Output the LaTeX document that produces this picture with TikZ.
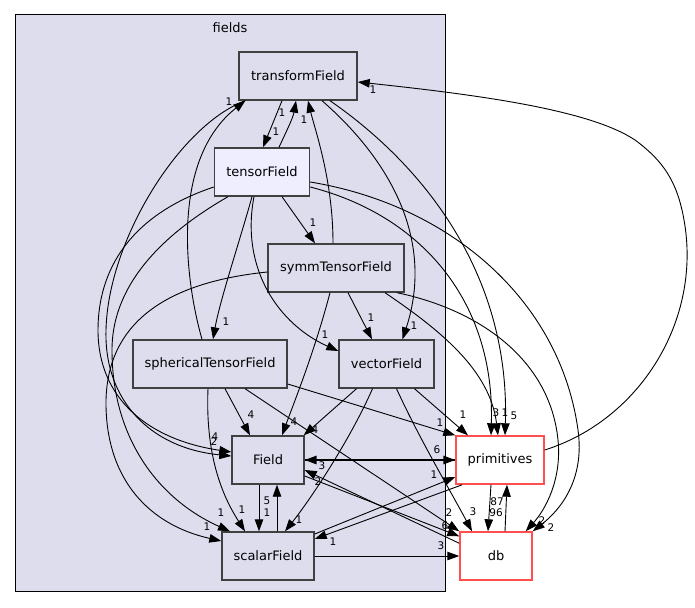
\documentclass[tikz,border=0pt]{standalone}
\usepackage{fontspec}
\setmainfont{DejaVu Sans}
\usetikzlibrary{arrows.meta,positioning}
\definecolor{dirfill}{HTML}{DDDDEE}
\definecolor{curfill}{HTML}{EEEEFF}
\definecolor{dirline}{HTML}{404040}
\definecolor{extline}{HTML}{FF5050}

\begin{document}
\begin{tikzpicture}[
  x=1pt, y=-1pt,
  >={Triangle[length=12pt,width=8.5pt]},
  dirbox/.style={draw=dirline,line width=1.4pt,fill=dirfill,minimum height=48pt,
    inner sep=0pt,font=\fontsize{13}{15}\selectfont},
  extbox/.style={dirbox,draw=extline,fill=white},
  dep/.style={->,line width=0.9pt},
  lbl/.style={inner sep=0pt,font=\fontsize{10.5}{12}\selectfont}
]
  \useasboundingbox (0,0) rectangle (695,607);
  \node[draw,line width=1pt,fill=dirfill,minimum width=430pt,minimum height=576pt] (fields) at (230,303) {};
  \node[font=\fontsize{13}{15}\selectfont,below=5pt of fields.north] (fieldsLbl) {fields};

  \node[dirbox,minimum width=118pt] (transformField) at (298,76) {transformField};
  \node[dirbox,fill=curfill,minimum width=95pt] (tensorField) at (262,172) {tensorField};
  \node[dirbox,minimum width=136pt] (symmTensorField) at (336,268) {symmTensorField};
  \node[dirbox,minimum width=154pt] (sphericalTensorField) at (210,364) {sphericalTensorField};
  \node[dirbox,minimum width=95pt] (vectorField) at (386.5,364) {vectorField};
  \node[dirbox,minimum width=72pt] (Field) at (268,460) {Field};
  \node[dirbox,minimum width=92pt] (scalarField) at (268,556) {scalarField};
  \node[extbox,minimum width=88pt] (primitives) at (500,460) {primitives};
  \node[extbox,minimum width=72pt] (db) at (496,556) {db};

  \draw[dep] ([xshift=-16]transformField.south) -- ([xshift=1]tensorField.north) node[lbl] at (276,132) {1};
  \draw[dep] ([xshift=17]tensorField.north) .. controls (287,130) and (293,118) .. ([xshift=-2]transformField.south) node[lbl] at (282,113) {1};
  \draw[dep] ([xshift=-3]symmTensorField.north) .. controls (333,180) and (315,130) .. ([xshift=10]transformField.south) node[lbl] at (304,120) {1};
  \draw[dep] ([xshift=-8]sphericalTensorField.north) .. controls (185,280) and (170,160) .. ([xshift=7]transformField.south west) node[lbl] at (229,102) {1};
  \draw[dep] ([xshift=7]transformField.south west) .. controls (180,125) and (108,240) .. (106,330)
    .. controls (104,400) and (150,448) .. ([yshift=4]Field.west) node[lbl] at (214,442) {2};
  \draw[dep] ([yshift=-15]tensorField.west) .. controls (130,215) and (98,270) .. (98,330)
    .. controls (98,400) and (150,440) .. ([yshift=8]Field.west) node[lbl] at (215,437) {4};
  \draw[dep] ([xshift=-34]tensorField.south) .. controls (170,230) and (112,280) .. (112,350)
    .. controls (112,440) and (160,500) .. ([xshift=-38]scalarField.north) node[lbl] at (221,513) {1};
  \draw[dep] ([yshift=-4]symmTensorField.west) .. controls (170,282) and (108,320) .. (106,400)
    .. controls (105,480) and (150,525) .. ([yshift=15]scalarField.west) node[lbl] at (207,527) {1};
  \draw[dep] ([xshift=20]tensorField.south) -- ([xshift=-21]symmTensorField.north) node[lbl] at (313,223) {1};
  \draw[dep] ([xshift=-10]tensorField.south) .. controls (240,240) and (220,300) .. ([xshift=3]sphericalTensorField.north) node[lbl] at (226,322) {1};
  \draw[dep] ([xshift=-8]tensorField.south) .. controls (240,270) and (280,325) .. ([yshift=13]vectorField.west) node[lbl] at (325,335) {1};
  \draw[dep] ([xshift=24]transformField.south) .. controls (390,160) and (435,240) .. ([xshift=16]vectorField.north) node[lbl] at (414,326) {1};
  \draw[dep] ([xshift=12]symmTensorField.south) -- ([xshift=-14.5]vectorField.north) node[lbl] at (371,318) {1};
  \draw[dep] ([xshift=-6]symmTensorField.south) .. controls (315,350) and (295,400) .. ([xshift=14]Field.north) node[lbl] at (294,422) {4};
  \draw[dep] ([xshift=15]sphericalTensorField.south) -- ([xshift=-18]Field.north) node[lbl] at (251,415) {4};
  \draw[dep] ([xshift=-2]sphericalTensorField.south) .. controls (205,460) and (225,500) .. ([xshift=-23]scalarField.north) node[lbl] at (242,510) {1};
  \draw[dep] ([xshift=-30]vectorField.south) -- ([xshift=-1]Field.north east) node[lbl] at (315,430) {4};
  \draw[dep] ([xshift=-14]vectorField.south) .. controls (350,440) and (310,500) .. ([xshift=17]scalarField.north) node[lbl] at (299,520) {1};
  \draw[dep] ([xshift=-9]Field.south) -- ([xshift=-9]scalarField.north) node[lbl] at (267,513) {1};
  \draw[dep] ([xshift=9]scalarField.north) -- ([xshift=9]Field.south) node[lbl] at (267,501) {5};

  \draw[dep] ([yshift=-15]tensorField.east) .. controls (420,215) and (495,300) .. ([xshift=-9]primitives.north) node[lbl] at (496,413) {3};
  \draw[dep] ([xshift=49]symmTensorField.south) .. controls (440,330) and (490,370) .. ([xshift=-2]primitives.north) node[lbl] at (505,413) {1};
  \draw[dep] ([xshift=32]transformField.south) .. controls (430,170) and (510,280) .. ([xshift=5]primitives.north) node[lbl] at (514,416) {5};
  \draw[dep] ([yshift=-20]sphericalTensorField.east) -- (primitives.north west) node[lbl] at (440,423) {1};
  \draw[dep] ([xshift=28]vectorField.south) -- ([xshift=-32]primitives.north) node[lbl] at (463,415) {1};
  \draw[dep,line width=1.6pt] (Field.east) -- (primitives.west) node[lbl] at (437,450) {6};
  \draw[dep,line width=1.6pt] (primitives.west) -- (Field.east) node[lbl] at (322,466) {3};
  \draw[dep] ([yshift=22]scalarField.east) -- ([yshift=-17]primitives.west) node[lbl] at (434,475) {1};
  \draw[dep] ([xshift=7]primitives.south west) -- ([yshift=17]scalarField.east) node[lbl] at (333,542) {1};
  \draw[dep] ([xshift=-9]primitives.south) -- ([xshift=-8]db.north) node[lbl] at (496,513) {96};
  \draw[dep] ([xshift=9]db.north) -- ([xshift=7]primitives.south) node[lbl] at (497,502) {87};
  \draw[dep] ([xshift=35]sphericalTensorField.south) -- (db.north west) node[lbl] at (449,513) {2};
  \draw[dep] ([xshift=10]vectorField.south) .. controls (420,440) and (450,490) .. ([xshift=-24]db.north) node[lbl] at (473,512) {3};
  \draw[dep] ([yshift=-16]Field.east) -- ([yshift=-5]db.north west) node[lbl] at (445,526) {6};
  \draw[dep] ([yshift=-12]db.north west) -- ([yshift=-10]Field.east) node[lbl] at (318,482) {2};
  \draw[dep] (scalarField.east) -- (db.west) node[lbl] at (441,546) {3};
  \draw[dep] ([xshift=61]symmTensorField.south) .. controls (480,310) and (550,360) .. (558,440)
    .. controls (562,480) and (545,510) .. ([xshift=-7]db.north east) node[lbl] at (542,521) {2};
  \draw[dep] ([yshift=-10]tensorField.east) .. controls (450,205) and (560,300) .. (578,430)
    .. controls (585,480) and (560,510) .. (db.north east) node[lbl] at (551,528) {2};
  \draw[dep] ([yshift=10]primitives.east) .. controls (640,420) and (702,320) .. (684,220)
    .. controls (677,180) and (662,160) .. (635,140)
    .. controls (590,110) and (480,95) .. ([yshift=-6]transformField.east) node[lbl] at (373,90) {1};
\end{tikzpicture}
\end{document}
